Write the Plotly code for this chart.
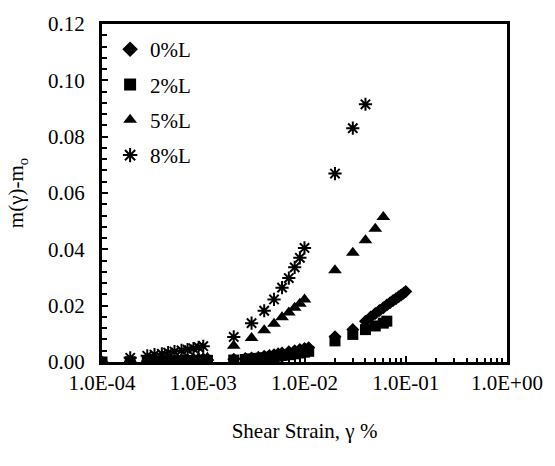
import plotly.graph_objects as go

# ---- data ----
x_low = [1.0e-4, 1.9e-4, 2.8e-4, 3.3e-4, 3.9e-4, 4.5e-4, 5.2e-4, 6.1e-4, 7.0e-4, 8.0e-4, 9.0e-4, 1.0e-3, 1.1e-3]
x_mid = [2.0e-3, 3.0e-3, 4.0e-3, 5.0e-3, 6.0e-3, 7.0e-3, 8.0e-3, 9.0e-3, 1.0e-2]
x_mid_ext = [2.0e-3, 2.6e-3, 3.0e-3, 3.5e-3, 4.0e-3, 4.5e-3, 5.0e-3, 5.5e-3, 6.0e-3, 7.0e-3, 8.0e-3, 9.0e-3, 1.0e-2, 1.1e-2]

# 0%L
x0 = x_low + x_mid_ext + [0.02, 0.03, 0.04, 0.045, 0.05, 0.055, 0.06, 0.065, 0.07, 0.075, 0.08, 0.085, 0.09, 0.095, 0.1]
y0 = [0.0, 0.0002, 0.0003, 0.0004, 0.0004, 0.0005, 0.0005, 0.0006, 0.0006, 0.0007, 0.0007, 0.0008, 0.0008,
      0.0010, 0.0012, 0.0014, 0.0017, 0.0020, 0.0023, 0.0026, 0.0029, 0.0032, 0.0036, 0.0040, 0.0044, 0.0048, 0.0051,
      0.0090, 0.0115, 0.0145, 0.0160, 0.0172, 0.0183, 0.0193, 0.0202, 0.0210, 0.0218, 0.0225, 0.0232, 0.0238, 0.0244, 0.0250]

# 2%L
x2 = x_low + x_mid_ext + [0.02, 0.03, 0.04, 0.05, 0.06, 0.065]
y2 = [0.0, 0.0001, 0.0002, 0.0002, 0.0003, 0.0003, 0.0004, 0.0004, 0.0005, 0.0005, 0.0006, 0.0006, 0.0006,
      0.0007, 0.0009, 0.0011, 0.0013, 0.0015, 0.0017, 0.0019, 0.0021, 0.0023, 0.0026, 0.0029, 0.0032, 0.0035, 0.0038,
      0.0075, 0.0098, 0.0115, 0.0128, 0.0138, 0.0145]

# 5%L
x5 = x_low + x_mid + [0.02, 0.03, 0.04, 0.05, 0.06]
y5 = [0.0, 0.0003, 0.0005, 0.0006, 0.0007, 0.0008, 0.0009, 0.0010, 0.0011, 0.0012, 0.0013, 0.0014, 0.0015,
      0.0058, 0.0085, 0.0113, 0.0136, 0.0159, 0.0176, 0.0193, 0.0207, 0.0222,
      0.0326, 0.0388, 0.0432, 0.0473, 0.0515]

# 8%L
x8 = x_low[1:12] + x_mid + [0.02, 0.03, 0.04]
y8 = [0.0015, 0.0022, 0.0026, 0.0029, 0.0033, 0.0037, 0.0041, 0.0044, 0.0048, 0.0052, 0.0056,
      0.0089, 0.0138, 0.0182, 0.0222, 0.0264, 0.0298, 0.0336, 0.0370, 0.0405,
      0.0669, 0.0830, 0.0915]

names = ["0%L", "2%L", "5%L", "8%L"]
x_tickvals = [1e-4, 1e-3, 1e-2, 1e-1, 1e0]
x_ticktext = ["1.0E-04", "1.0E-03", "1.0E-02", "1.0E-01", "1.0E+00"]
y_tickvals = [0.0, 0.02, 0.04, 0.06, 0.08, 0.10, 0.12]

FONT = "Liberation Serif, Times New Roman, serif"
FS = 21

fig = go.Figure()
fig.add_trace(go.Scatter(x=x0, y=y0, mode="markers", name=names[0], legendgroup="a",
                         marker=dict(symbol="diamond", size=10, color="black")))
fig.add_trace(go.Scatter(x=x2, y=y2, mode="markers", name=names[1], legendgroup="b",
                         marker=dict(symbol="square", size=11, color="black")))
fig.add_trace(go.Scatter(x=x5, y=y5, mode="markers", name=names[2], legendgroup="c",
                         marker=dict(symbol="triangle-up", size=12, color="black")))
fig.add_trace(go.Scatter(x=x8, y=y8, mode="markers", name=names[3], legendgroup="d",
                         marker=dict(symbol="asterisk-open", size=11, color="black",
                                     line=dict(color="black", width=2))))

fig.update_layout(
    width=555, height=466,
    margin=dict(l=102, r=47, t=15, b=104),
    paper_bgcolor="white", plot_bgcolor="white",
    font=dict(family=FONT, size=FS, color="black"),
    showlegend=True,
    legend=dict(x=0.02, y=0.985, xanchor="left", yanchor="top",
                bgcolor="rgba(0,0,0,0)", font=dict(family=FONT, size=FS),
                tracegroupgap=5, itemsizing="constant"),
)
fig.update_xaxes(
    type="log", range=[-4, 0],
    tickvals=x_tickvals, ticktext=x_ticktext,
    ticks="inside", ticklen=6, tickwidth=2, tickcolor="black",
    minor=dict(ticks="inside", ticklen=4, tickwidth=1.5, tickcolor="black", dtick="D1"),
    showline=True, linewidth=3, linecolor="black", mirror=True,
    showgrid=False, zeroline=False,
    tickfont=dict(family=FONT, size=FS),
    title=dict(text="Shear Strain, γ %", font=dict(family=FONT, size=FS), standoff=30),
)
fig.update_yaxes(
    range=[0, 0.12],
    tickvals=y_tickvals, tickformat=".2f",
    ticks="inside", ticklen=6, tickwidth=2, tickcolor="black",
    minor=dict(ticks="inside", ticklen=5, tickwidth=2, tickcolor="black", dtick=0.004),
    showline=True, linewidth=3, linecolor="black", mirror=True,
    showgrid=False, zeroline=False,
    ticklabelstandoff=10,
    tickfont=dict(family=FONT, size=FS),
    title=dict(text="m(γ)-m<sub>o</sub>", font=dict(family=FONT, size=FS), standoff=19),
)

fig.write_html("out.html", config={"displayModeBar": False},
               post_script="document.body.style.margin='0';")
